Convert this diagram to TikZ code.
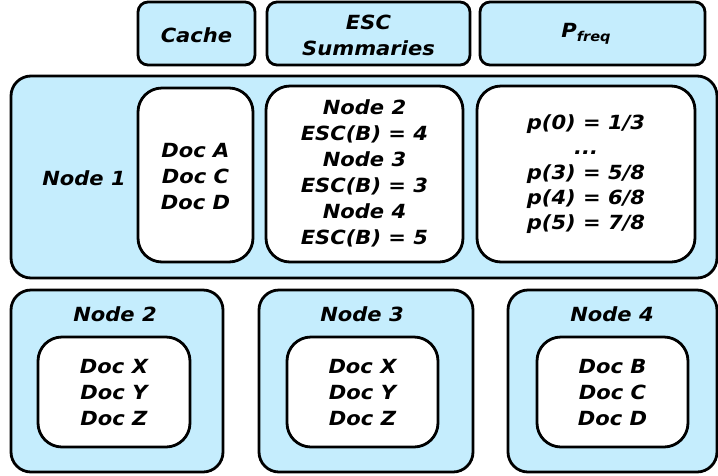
\documentclass[tikz,border=0pt]{standalone}
\usepackage{fontspec}
\setmainfont{DejaVu Sans}[FakeStretch=1.08]
\definecolor{lblue}{RGB}{197,237,253}
\begin{document}
\begin{tikzpicture}[x=1pt,y=-1pt,
  outerbox/.style={draw, line width=2.8pt, fill=lblue, rounded corners=20pt, inner sep=0pt},
  innerbox/.style={draw, line width=2.8pt, fill=white, rounded corners=24pt, inner sep=0pt},
  topbox/.style={draw, line width=2.8pt, fill=lblue, rounded corners=10pt, inner sep=0pt},
  txt/.style={font=\fontsize{19.5}{26}\selectfont\bfseries\itshape, align=center, inner sep=0pt}]
\useasboundingbox (0,0) rectangle (718,475);

% top header boxes
\node[topbox, minimum width=117pt, minimum height=63pt] (hcache) at (196.5,33.5) {};
\node[topbox, minimum width=203pt, minimum height=63pt] (hesc) at (368.5,33.5) {};
\node[topbox, minimum width=225pt, minimum height=63pt] (hpf) at (592.5,33.5) {};
\node[txt] (tcache) at (196.5,35) {Cache};
\node[txt] (tesc) at (368.5,35) {ESC\\Summaries};
\node[txt] (tpf) at (586,34) {P\raisebox{-0.35ex}{\fontsize{13.5}{14}\selectfont freq}};

% Node 1
\node[outerbox, minimum width=706pt, minimum height=202pt] (n1) at (364,177) {};
\node[txt] (n1lab) at (84,178) {Node 1};
\node[innerbox, minimum width=115pt, minimum height=174pt] (n1cache) at (195.5,175) {};
\node[txt] (n1cachet) at (195.5,177) {Doc A\\Doc C\\Doc D};
\node[innerbox, minimum width=197pt, minimum height=176pt] (n1esc) at (364.5,174) {};
\node[txt] (n1esct) at (364.5,173) {Node 2\\ESC(B) = 4\\Node 3\\ESC(B) = 3\\Node 4\\ESC(B) = 5};
\node[innerbox, minimum width=218pt, minimum height=176pt] (n1pf) at (586,174) {};
\node[txt, font=\fontsize{19.5}{25}\selectfont\bfseries\itshape] (n1pft) at (586,174) {p(0) = 1/3\\...\\p(3) = 5/8\\p(4) = 6/8\\p(5) = 7/8};

% Node 2
\node[outerbox, minimum width=212pt, minimum height=182pt] (n2) at (117,381) {};
\node[txt] (n2lab) at (115,314) {Node 2};
\node[innerbox, minimum width=152pt, minimum height=110pt] (n2in) at (114,392) {};
\node[txt] (n2t) at (114,393) {Doc X\\Doc Y\\Doc Z};

% Node 3
\node[outerbox, minimum width=214pt, minimum height=182pt] (n3) at (366,381) {};
\node[txt] (n3lab) at (362,314) {Node 3};
\node[innerbox, minimum width=151pt, minimum height=110pt] (n3in) at (362.5,392) {};
\node[txt] (n3t) at (362.5,393) {Doc X\\Doc Y\\Doc Z};

% Node 4
\node[outerbox, minimum width=209pt, minimum height=182pt] (n4) at (612.5,381) {};
\node[txt] (n4lab) at (612,314) {Node 4};
\node[innerbox, minimum width=151pt, minimum height=110pt] (n4in) at (612.5,392) {};
\node[txt] (n4t) at (612.5,393) {Doc B\\Doc C\\Doc D};
\end{tikzpicture}
\end{document}
